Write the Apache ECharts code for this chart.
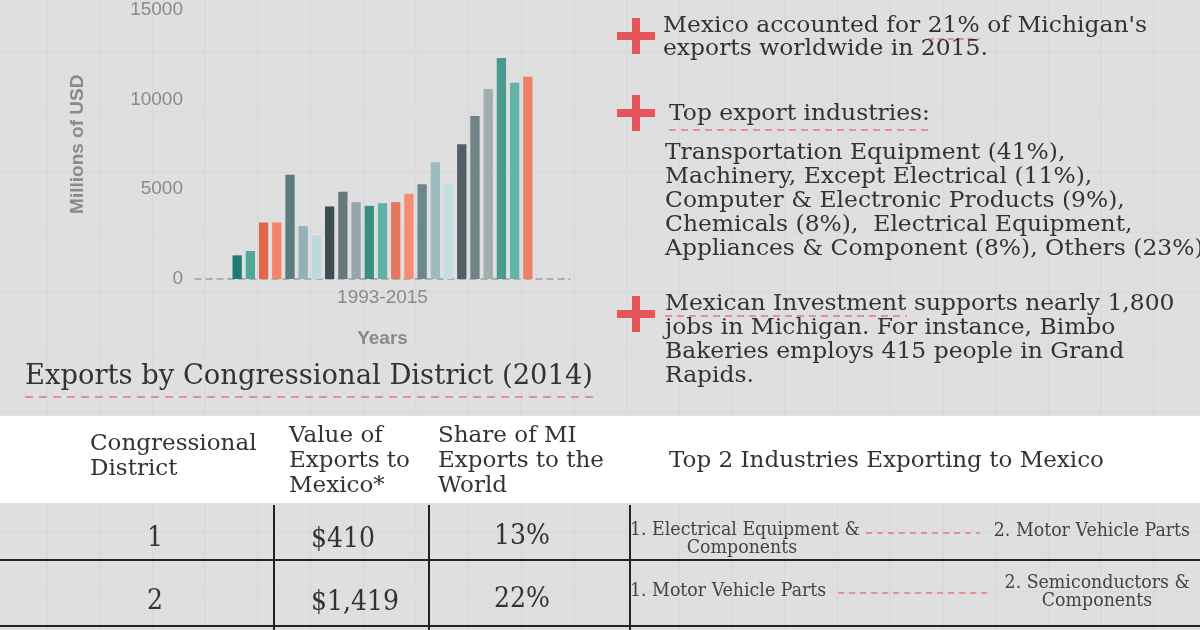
<!DOCTYPE html>
<html><head><meta charset="utf-8">
<script src="https://cdn.jsdelivr.net/npm/echarts/dist/echarts.min.js"></script>
<style>html,body{margin:0;padding:0;background:#dfdfdf}#c{width:1200px;height:630px}</style>
</head><body><div id="c"></div>
<script>
// ---------- DATA ----------
const years = ['1993','1994','1995','1996','1997','1998','1999','2000','2001','2002','2003','2004','2005','2006','2007','2008','2009','2010','2011','2012','2013','2014','2015'];
const exportValues = [1315,1556,3148,3148,5796,2944,2426,4037,4852,4278,4074,4222,4278,4741,5278,6500,5278,7500,9074,10574,12296,10926,11259];
const barColors = ['#1e7b6f','#4ea79b','#e2674a','#f4846a','#5b7b7e','#93b1b8','#bcd9de','#3e4d52','#667a7d','#97a5a9','#3b8e84','#5eb2a6','#e6775c','#f68d70','#6b878b','#9dbcc2','#c3dfe3','#4f5f62','#6f8285','#a2adb0','#4a9a8f','#62b4a8','#ec8069'];
const yTicks = [0, 5000, 10000, 15000];
const xCategories = ['1993-2015'];
const yAxisTitle = 'Millions of USD';
const xAxisTitle = 'Years';

const bullet1 = ["Mexico accounted for 21% of Michigan's", 'exports worldwide in 2015.'];
const bullet1Highlight = '21%';
const bullet2Title = 'Top export industries:';
const bullet2Body = ['Transportation Equipment (41%),', 'Machinery, Except Electrical (11%),', 'Computer & Electronic Products (9%),', 'Chemicals (8%),  Electrical Equipment,', 'Appliances & Component (8%), Others (23%)'];
const bullet3 = ['Mexican Investment supports nearly 1,800', 'jobs in Michigan. For instance, Bimbo', 'Bakeries employs 415 people in Grand', 'Rapids.'];
const bullet3Highlight = 'Mexican Investment';

const tableTitle = 'Exports by Congressional District (2014)';
const headDistrict = ['Congressional', 'District'];
const headValue = ['Value of', 'Exports to', 'Mexico*'];
const headShare = ['Share of MI', 'Exports to the', 'World'];
const headIndustries = 'Top 2 Industries Exporting to Mexico';
const districts = ['1', '2'];
const valuesToMexico = ['$410', '$1,419'];
const sharesOfMI = ['13%', '22%'];
const industry1 = [['1. Electrical Equipment &', 'Components'], ['1. Motor Vehicle Parts']];
const industry2 = [['2. Motor Vehicle Parts'], ['2. Semiconductors &', 'Components']];

// ---------- HELPERS ----------
const SLAB = '"DejaVu Serif", "Liberation Serif", serif';
const SANS = '"Liberation Sans", Arial, sans-serif';
const mc = document.createElement('canvas').getContext('2d');
function tw(text, size) { mc.font = 'normal ' + size + 'px ' + SLAB; return mc.measureText(text).width; }
function fit(text, size, width) { return width / tw(text, size); }
const g = [];
function txt(text, x, y, size, sx, align, fill) {
  g.push({ type: 'text', x: x, y: y, scaleX: sx, z: 20, silent: true,
    style: { text: text, fontSize: size, fontFamily: SLAB, fill: fill || '#333',
      textAlign: align || 'left', textVerticalAlign: 'middle', align: align || 'left', verticalAlign: 'middle' } });
}
function line(x1, y1, x2, y2, stroke, w, dash, z) {
  g.push({ type: 'line', z: z == null ? 10 : z, silent: true, shape: { x1, y1, x2, y2 },
    style: { stroke: stroke, lineWidth: w, lineDash: dash || null } });
}
function rect(x, y, w, h, fill, z) {
  g.push({ type: 'rect', z: z == null ? 10 : z, silent: true, shape: { x, y, width: w, height: h }, style: { fill } });
}
const RED_DASH = '#e27b7b';

// background grid
for (let x = 47; x < 1200; x += 52.7) line(x, 0, x, 630, '#d6d6dd', 1, null, -20);
for (let y = 52; y < 630; y += 60) line(0, y, 1200, y, '#d6d6dd', 1, null, -20);
// white header band
rect(0, 416, 1200, 87, '#ffffff', -10);

// plus icons
[36, 113, 314].forEach(function (cy) {
  rect(617, cy - 4, 38, 8, '#e5565b', 15);
  rect(632, cy - 18, 8, 36, '#e5565b', 15);
});

// right text block
const RS = 23;
const sR = fit(bullet1[0], RS, 484);
txt(bullet1[0], 663, 26, RS, sR);
txt(bullet1[1], 663, 49, RS, sR);
(function () {
  const pre = bullet1[0].slice(0, bullet1[0].indexOf(bullet1Highlight));
  const x0 = 663 + sR * tw(pre, RS), x1 = x0 + sR * tw(bullet1Highlight, RS);
  line(x0, 39, x1, 39, RED_DASH, 1.5, [6, 4]);
})();
txt(bullet2Title, 669, 114, RS, sR);
line(669, 130, 669 + sR * tw(bullet2Title, RS), 130, RED_DASH, 1.5, [7, 5]);
bullet2Body.forEach(function (t, i) { txt(t, 665, 153 + i * 24, RS, sR); });
bullet3.forEach(function (t, i) { txt(t, 665, 304 + i * 24, RS, sR); });
line(665, 316, 665 + sR * tw(bullet3Highlight, RS), 316, RED_DASH, 1.5, [7, 5]);

// table title
const sT = fit(tableTitle, 27, 568);
txt(tableTitle, 25, 377, 27, sT);
line(25, 397, 595, 397, RED_DASH, 1.5, [8, 6]);

// table header
const HS = 23;
const sH = fit(headShare[1], HS, 166);
txt(headDistrict[0], 90, 444, HS, sH);
txt(headDistrict[1], 90, 469, HS, sH);
headValue.forEach(function (t, i) { txt(t, 289, 436 + i * 25, HS, sH); });
headShare.forEach(function (t, i) { txt(t, 438, 436 + i * 25, HS, sH); });
txt(headIndustries, 669, 461, HS, sH);

// table grid lines
line(0, 560, 1200, 560, '#222', 2);
line(0, 626, 1200, 626, '#222', 2);
[274, 429, 630].forEach(function (x) { line(x, 505, x, 630, '#222', 2); });

// table rows
const VS = 28;
const sV = fit(valuesToMexico[1], VS, 88);
const rowY = [539, 602];
districts.forEach(function (d, i) {
  txt(d, 155, rowY[i], VS, sV, 'center');
  txt(valuesToMexico[i], 311, rowY[i] + 1, VS, sV, 'left');
  txt(sharesOfMI[i], 522, rowY[i] - 2, VS, sV, 'center');
});
const IS = 18;
const sI = fit(industry1[0][0], IS, 230);
// row 1
txt(industry1[0][0], 630, 530, IS, sI, 'left', '#444');
txt(industry1[0][1], 742, 548, IS, sI, 'center', '#444');
txt(industry2[0][0], 1190, 531, IS, sI, 'right', '#444');
line(630 + sI * tw(industry1[0][0], IS) + 6, 533, 1190 - sI * tw(industry2[0][0], IS) - 14, 533, RED_DASH, 1.5, [6, 5]);
// row 2
txt(industry1[1][0], 630, 591, IS, sI, 'left', '#444');
txt(industry2[1][0], 1190, 583, IS, sI, 'right', '#444');
txt(industry2[1][1], 1097, 601, IS, sI, 'center', '#444');
line(630 + sI * tw(industry1[1][0], IS) + 12, 593, 1190 - sI * tw(industry2[1][0], IS) - 14, 593, RED_DASH, 1.5, [6, 5]);

// ---------- CHART ----------
const AXIS_GREY = '#8a8a8a';
const chart = echarts.init(document.getElementById('c'), null, { renderer: 'canvas' });
chart.setOption({
  backgroundColor: '#dfdfdf',
  animation: false,
  grid: { left: 195, width: 375, top: 7, height: 272 },
  xAxis: {
    type: 'category', data: xCategories,
    axisLine: { show: true, lineStyle: { color: '#a0a0a0', width: 1.5, type: [6, 5] } },
    axisTick: { show: false },
    axisLabel: { color: AXIS_GREY, fontSize: 19, fontFamily: SANS, margin: 9 },
    name: xAxisTitle, nameLocation: 'middle', nameGap: 50,
    nameTextStyle: { color: AXIS_GREY, fontSize: 19, fontWeight: 'bold', fontFamily: SANS }
  },
  yAxis: {
    type: 'value', min: yTicks[0], max: yTicks[yTicks.length - 1], interval: yTicks[1] - yTicks[0],
    axisLine: { show: false }, axisTick: { show: false }, splitLine: { show: false },
    axisLabel: { color: AXIS_GREY, fontSize: 19, fontFamily: SANS, margin: 12, formatter: function (v) { return String(v); } },
    name: yAxisTitle, nameLocation: 'middle', nameGap: 108,
    nameTextStyle: { color: AXIS_GREY, fontSize: 19, fontWeight: 'bold', fontFamily: SANS }
  },
  series: years.map(function (yr, i) {
    return { type: 'bar', name: yr, data: [exportValues[i]], itemStyle: { color: barColors[i] },
      barGap: '42%', barCategoryGap: '20%', silent: true, z: 5 };
  }),
  graphic: { elements: g }
});
</script></body></html>
